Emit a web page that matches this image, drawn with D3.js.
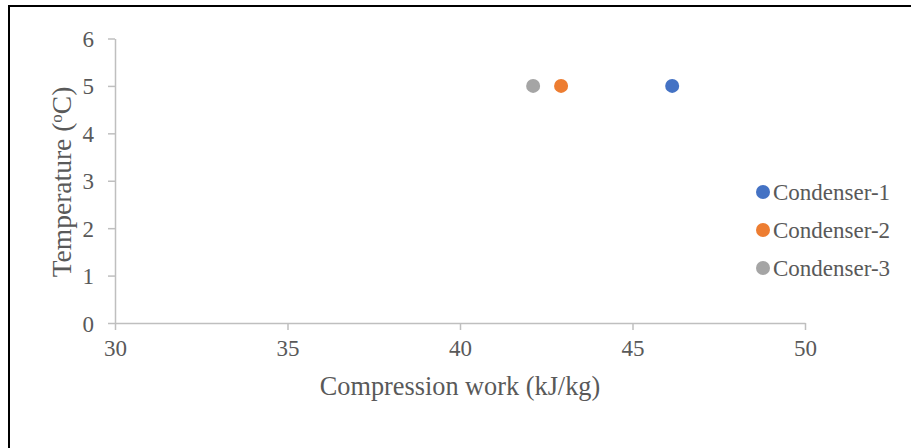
<!DOCTYPE html>
<html><head><meta charset="utf-8">
<script src="https://cdn.jsdelivr.net/npm/d3@7"></script>
<style>body{margin:0;background:#fff}svg{display:block}</style>
</head><body>
<svg id="c" width="911" height="448"></svg>
<script>
const seriesNames = ["Condenser-1", "Condenser-2", "Condenser-3"];
const workValues = [46.15, 42.93, 42.12];
const tempValues = [5, 5, 5];
const colors = ["#4472C4", "#ED7D31", "#A5A5A5"];
const xTicks = [30, 35, 40, 45, 50];
const yTicks = [0, 1, 2, 3, 4, 5, 6];

const FONT = "'Liberation Serif', 'Times New Roman', Tinos, 'DejaVu Serif', 'Noto Serif', serif";
const svg = d3.select("#c");
svg.append("rect").attr("x", 0).attr("y", 0).attr("width", 911).attr("height", 448).attr("fill", "#fff");
svg.append("rect").attr("x", 9).attr("y", 6).attr("width", 920).attr("height", 460)
  .attr("fill", "none").attr("stroke", "#000").attr("stroke-width", 2);

const x = d3.scaleLinear().domain([30, 50]).range([115, 805]);
const y = d3.scaleLinear().domain([0, 6]).range([323, 38.5]);
const axisCol = "#bfbfbf", textCol = "#595959";

const gx = svg.append("g").attr("transform", "translate(0,323)")
  .call(d3.axisBottom(x).tickValues(xTicks).tickFormat(d3.format("d")).tickSize(7).tickPadding(6).tickSizeOuter(0));
const gy = svg.append("g").attr("transform", "translate(115,0)")
  .call(d3.axisLeft(y).tickValues(yTicks).tickFormat(d3.format("d")).tickSize(7).tickPadding(14).tickSizeOuter(0));
[gx, gy].forEach(g => {
  g.attr("font-family", FONT).attr("font-size", 23);
  g.select(".domain").attr("stroke", axisCol).attr("stroke-width", 1.5);
  g.selectAll(".tick line").attr("stroke", axisCol).attr("stroke-width", 1.5);
  g.selectAll(".tick text").attr("fill", textCol);
});
gx.selectAll(".tick text").attr("dy", "0.85em");
gy.selectAll(".tick text").attr("dy", "0.35em");

svg.append("text").attr("x", 460).attr("y", 395).attr("text-anchor", "middle")
  .attr("font-family", FONT).attr("font-size", 26.3)
  .attr("fill", textCol).text("Compression work (kJ/kg)");
const yt = svg.append("text").attr("transform", "translate(71,182) rotate(-90)")
  .attr("font-family", FONT).attr("font-size", 27.5)
  .attr("text-anchor", "middle").attr("fill", textCol);
yt.append("tspan").text("Temperature (");
yt.append("tspan").attr("baseline-shift", "super").attr("font-size", 17).text("o");
yt.append("tspan").text("C)");

svg.selectAll("circle.pt").data(seriesNames).enter().append("circle").attr("class", "pt")
  .attr("cx", (d, i) => x(workValues[i])).attr("cy", (d, i) => y(tempValues[i]))
  .attr("r", 7).attr("fill", (d, i) => colors[i]);

const lg = svg.append("g").attr("font-family", FONT).attr("font-size", 23);
seriesNames.forEach((n, i) => {
  const yy = 192 + i * 38;
  lg.append("circle").attr("cx", 763).attr("cy", yy).attr("r", 7).attr("fill", colors[i]);
  lg.append("text").attr("x", 773).attr("y", yy).attr("dy", "0.35em").attr("fill", textCol).text(n);
});
</script>
</body></html>
